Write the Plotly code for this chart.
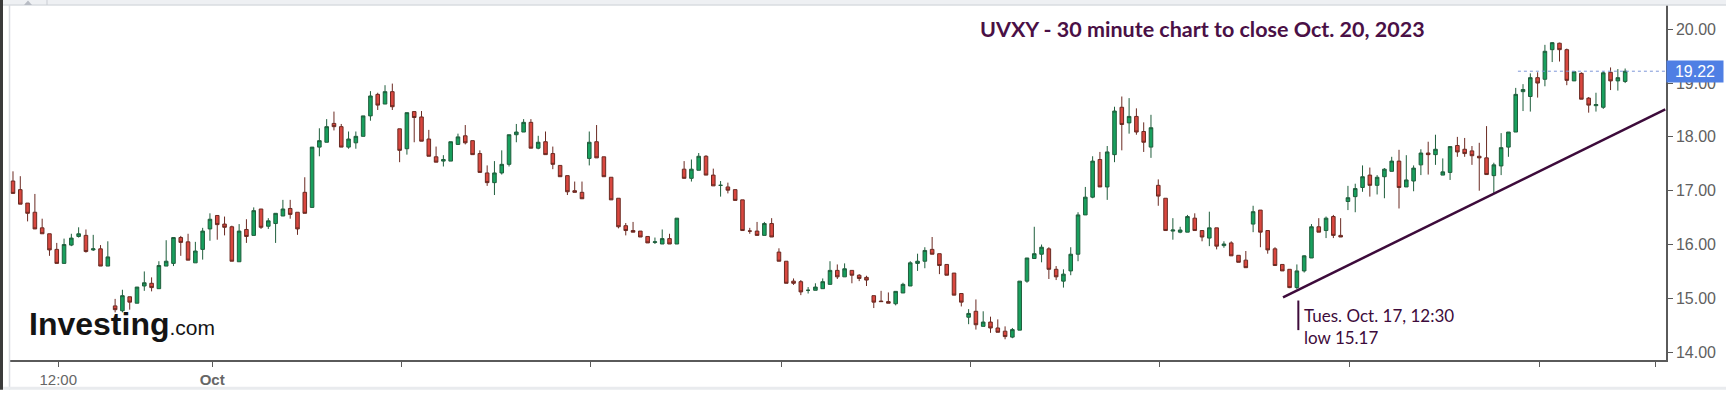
import plotly.graph_objects as go

# ---------------- data ----------------
opens = [17.18, 17.02, 16.77, 16.60, 16.31, 16.20, 15.91, 15.65, 15.99, 16.15,
         16.17, 15.90, 15.92, 15.60, 14.86, 14.77, 15.03, 14.91, 15.23, 15.28,
         15.18, 15.60, 15.65, 16.13, 16.05, 15.66, 15.91, 16.29, 16.54, 16.38,
         16.33, 15.68, 16.28, 16.17, 16.66, 16.34, 16.39, 16.53, 16.67, 16.60,
         16.97, 16.69, 17.81, 17.90, 18.25, 18.19, 17.81, 17.89, 18.01, 18.39,
         18.79, 18.61, 18.84, 18.15, 17.78, 18.47, 18.37, 17.96, 17.63, 17.55,
         17.55, 17.86, 18.02, 17.93, 17.69, 17.33, 17.15, 17.33, 17.49, 18.04,
         18.09, 18.27, 17.79, 17.91, 17.69, 17.47, 17.28, 17.00, 16.97, 17.60,
         17.91, 17.63, 17.25, 16.86, 16.35, 16.26, 16.25, 16.15, 16.04, 16.01,
         16.11, 16.01, 17.40, 17.23, 17.38, 17.64, 17.29, 17.10, 17.07, 17.02,
         16.83, 16.25, 16.25, 16.17, 16.39, 15.86, 15.69, 15.32, 15.31, 15.15,
         15.15, 15.18, 15.26, 15.52, 15.40, 15.52, 15.43, 15.39, 15.05, 14.95,
         14.94, 14.90, 15.10, 15.23, 15.65, 15.69, 15.91, 15.83, 15.63, 15.47,
         15.09, 14.65, 14.76, 14.48, 14.56, 14.45, 14.39, 14.28, 14.41, 15.32,
         15.74, 15.82, 15.92, 15.54, 15.32, 15.51, 15.82, 16.55, 16.88, 17.58,
         17.07, 17.67, 18.55, 18.26, 18.38, 18.10, 17.81, 17.10, 16.86, 16.25,
         16.23, 16.23, 16.49, 16.26, 16.12, 16.31, 15.98, 16.03, 15.80, 15.71,
         16.38, 16.64, 16.26, 15.92, 15.63, 15.54, 15.20, 15.51, 15.75, 16.33,
         16.26, 16.52, 16.17, 16.80, 16.89, 17.06, 17.29, 17.10, 17.26, 17.36,
         17.55, 17.07, 17.18, 17.48, 17.70, 17.67, 17.29, 17.34, 17.84, 17.77,
         17.74, 17.64, 17.61, 17.28, 17.46, 17.81, 18.09, 18.84, 18.75, 19.10,
         19.07, 19.62, 19.74, 19.62, 19.04, 19.18, 18.72, 18.58, 18.55, 19.20,
         19.04, 19.03]
highs = [17.36, 17.27, 16.77, 16.94, 16.48, 16.20, 16.03, 16.11, 16.20, 16.32,
         16.28, 16.18, 15.99, 16.06, 14.99, 15.16, 15.03, 15.21, 15.50, 15.39,
         15.69, 16.08, 16.13, 16.16, 16.20, 16.05, 16.31, 16.58, 16.54, 16.52,
         16.35, 16.38, 16.47, 16.69, 16.66, 16.49, 16.58, 16.83, 16.83, 16.60,
         17.25, 17.81, 18.16, 18.33, 18.47, 18.24, 18.10, 18.10, 18.39, 18.85,
         18.82, 18.96, 18.99, 18.15, 18.45, 18.47, 18.48, 18.13, 17.82, 17.66,
         17.91, 18.06, 18.22, 17.93, 17.75, 17.47, 17.55, 17.75, 18.04, 18.24,
         18.33, 18.33, 18.02, 18.10, 17.82, 17.47, 17.28, 17.17, 17.17, 18.10,
         18.22, 17.63, 17.25, 16.86, 16.40, 16.42, 16.25, 16.15, 16.13, 16.28,
         16.20, 16.49, 17.55, 17.58, 17.70, 17.66, 17.41, 17.18, 17.15, 17.02,
         16.83, 16.31, 16.42, 16.42, 16.49, 15.93, 15.69, 15.37, 15.34, 15.21,
         15.28, 15.37, 15.69, 15.63, 15.65, 15.52, 15.45, 15.42, 15.05, 15.14,
         15.11, 15.13, 15.29, 15.69, 15.83, 15.95, 16.14, 15.83, 15.63, 15.47,
         15.09, 14.80, 14.98, 14.76, 14.66, 14.61, 14.48, 14.45, 15.32, 15.75,
         16.33, 16.00, 15.95, 15.60, 15.54, 15.95, 16.60, 17.07, 17.64, 17.72,
         17.83, 18.56, 18.75, 18.72, 18.53, 18.27, 18.41, 17.21, 16.86, 16.49,
         16.33, 16.55, 16.58, 16.26, 16.61, 16.31, 16.06, 16.06, 15.80, 15.88,
         16.72, 16.64, 16.26, 15.95, 15.63, 15.54, 15.63, 15.80, 16.38, 16.49,
         16.52, 16.55, 16.49, 17.09, 17.13, 17.47, 17.43, 17.29, 17.42, 17.63,
         17.76, 17.66, 17.47, 17.77, 17.91, 18.04, 17.60, 17.82, 18.00, 17.98,
         17.83, 17.89, 18.20, 17.52, 18.07, 18.09, 18.91, 18.98, 19.18, 19.20,
         19.71, 19.76, 19.75, 19.64, 19.22, 19.20, 18.74, 18.82, 19.22, 19.29,
         19.26, 19.27]
lows = [16.95, 16.75, 16.43, 16.29, 16.20, 15.79, 15.65, 15.65, 15.97, 16.13,
        15.85, 15.88, 15.60, 15.60, 14.74, 14.74, 14.79, 14.91, 15.14, 15.13,
        15.18, 15.60, 15.60, 15.79, 15.71, 15.66, 15.72, 16.07, 16.09, 16.17,
        15.69, 15.68, 16.03, 16.17, 16.29, 16.29, 16.03, 16.53, 16.48, 16.18,
        16.58, 16.69, 17.64, 17.90, 18.12, 17.81, 17.78, 17.78, 18.01, 18.30,
        18.50, 18.61, 18.50, 17.53, 17.67, 17.90, 17.92, 17.64, 17.53, 17.45,
        17.55, 17.85, 17.86, 17.67, 17.34, 17.09, 16.92, 17.30, 17.45, 17.90,
        18.09, 17.79, 17.77, 17.67, 17.40, 17.26, 16.92, 16.97, 16.85, 17.47,
        17.61, 17.26, 16.83, 16.30, 16.17, 16.23, 16.14, 16.03, 16.01, 16.01,
        16.01, 16.01, 17.23, 17.17, 17.38, 17.29, 17.09, 16.89, 16.95, 16.82,
        16.26, 16.20, 16.17, 16.17, 16.14, 15.69, 15.28, 15.25, 15.06, 15.09,
        15.15, 15.18, 15.26, 15.36, 15.40, 15.28, 15.32, 15.23, 14.82, 14.94,
        14.91, 14.87, 15.10, 15.23, 15.51, 15.56, 15.82, 15.45, 15.43, 15.06,
        14.85, 14.52, 14.42, 14.48, 14.36, 14.37, 14.24, 14.26, 14.41, 15.29,
        15.74, 15.67, 15.36, 15.34, 15.20, 15.43, 15.69, 16.55, 16.86, 17.07,
        16.83, 17.53, 17.75, 18.06, 18.04, 17.72, 17.61, 16.72, 16.26, 16.09,
        16.21, 16.23, 16.26, 16.06, 15.97, 15.91, 15.94, 15.79, 15.67, 15.57,
        16.23, 15.95, 15.83, 15.61, 15.51, 15.19, 15.17, 15.48, 15.75, 16.23,
        16.12, 16.12, 16.14, 16.64, 16.60, 16.98, 16.89, 16.93, 16.86, 17.36,
        16.67, 17.07, 16.99, 17.29, 17.30, 17.48, 17.29, 17.20, 17.63, 17.63,
        17.48, 17.00, 17.30, 16.95, 17.29, 17.63, 18.09, 18.48, 18.47, 18.73,
        18.94, 19.39, 19.40, 18.96, 19.04, 18.70, 18.45, 18.47, 18.52, 18.87,
        18.86, 19.00]
closes = [16.95, 16.75, 16.58, 16.29, 16.20, 15.90, 15.65, 16.00, 16.12, 16.20,
          15.87, 15.92, 15.60, 15.77, 14.79, 15.05, 14.93, 15.21, 15.29, 15.20,
          15.61, 15.69, 16.13, 16.04, 15.71, 15.88, 16.25, 16.47, 16.37, 16.32,
          15.69, 16.25, 16.15, 16.63, 16.32, 16.44, 16.58, 16.66, 16.56, 16.29,
          16.58, 17.81, 17.93, 18.19, 18.19, 17.81, 17.96, 18.01, 18.39, 18.76,
          18.59, 18.84, 18.56, 17.75, 18.45, 18.36, 17.92, 17.64, 17.53, 17.58,
          17.91, 18.00, 17.89, 17.67, 17.34, 17.15, 17.33, 17.49, 18.04, 18.09,
          18.27, 17.79, 17.90, 17.67, 17.49, 17.26, 16.98, 16.97, 16.85, 17.90,
          17.61, 17.26, 16.83, 16.33, 16.26, 16.23, 16.14, 16.03, 16.05, 16.11,
          16.01, 16.49, 17.23, 17.40, 17.64, 17.29, 17.09, 17.10, 17.01, 16.82,
          16.26, 16.25, 16.17, 16.39, 16.14, 15.69, 15.28, 15.28, 15.12, 15.15,
          15.21, 15.31, 15.52, 15.40, 15.55, 15.43, 15.37, 15.34, 14.93, 14.94,
          14.91, 15.13, 15.26, 15.66, 15.69, 15.89, 15.82, 15.61, 15.43, 15.06,
          14.93, 14.72, 14.51, 14.56, 14.45, 14.37, 14.29, 14.42, 15.32, 15.75,
          15.83, 15.95, 15.54, 15.40, 15.45, 15.82, 16.55, 16.88, 17.55, 17.07,
          17.72, 18.48, 18.23, 18.38, 18.09, 17.90, 18.17, 16.90, 16.26, 16.27,
          16.27, 16.52, 16.26, 16.14, 16.31, 15.97, 16.01, 15.79, 15.67, 15.57,
          16.61, 16.23, 15.90, 15.61, 15.51, 15.20, 15.51, 15.79, 16.33, 16.23,
          16.49, 16.17, 16.14, 16.87, 17.04, 17.26, 17.10, 17.25, 17.40, 17.55,
          17.06, 17.20, 17.42, 17.70, 17.67, 17.77, 17.35, 17.82, 17.72, 17.69,
          17.65, 17.61, 17.30, 17.48, 17.80, 18.09, 18.79, 18.88, 19.10, 19.00,
          19.59, 19.75, 19.62, 19.05, 19.21, 18.70, 18.59, 18.60, 19.19, 19.04,
          19.10, 19.22]

bar_index = list(range(len(closes)))

x_tick_positions = [6.2, 27.3, 53.3, 79.2, 105.3, 131.3, 157.2, 183.2, 209.2, 225.2]
x_tick_labels = ["12:00", "<b>Oct</b>", "", "", "", "", "", "", "", ""]
y_tick_values = [14, 15, 16, 17, 18, 19, 20]
y_tick_labels = ["14.00", "15.00", "16.00", "17.00", "18.00", "19.00", "20.00"]

trend_x = [174.1, 226.5]
trend_y = [15.02, 18.51]

low_bar = 176          # Tues. Oct. 17, 12:30 bar
low_value = 15.17
title_text = "UVXY - 30 minute chart to close Oct. 20, 2023"
note_text = "Tues. Oct. 17, 12:30<br>low 15.17"

# ---------------- layout geometry ----------------
W, H = 1726, 393
ML, MR, MT, MB = 10, 60, 5, 30
PW = W - ML - MR
PH = H - MT - MB


def px(x):
    return (x - ML) / PW


def py(y):
    return (H - MB - y) / PH


X_RANGE = [-0.41, 226.6]
Y_RANGE = [13.855, 20.45]

fig = go.Figure()

fig.add_trace(go.Candlestick(
    x=bar_index, open=opens, high=highs, low=lows, close=closes,
    increasing=dict(line=dict(color="#1f5e3c", width=1), fillcolor="#18a05e"),
    decreasing=dict(line=dict(color="#6b2a22", width=1), fillcolor="#d9473f"),
    whiskerwidth=0, hoverinfo="skip", showlegend=False,
))

fig.add_trace(go.Scatter(
    x=trend_x, y=trend_y, mode="lines",
    line=dict(color="#3d0b3b", width=2.5), hoverinfo="skip", showlegend=False,
))

shapes = [
    # last price dotted line
    dict(type="line", xref="x", yref="y", x0=206.3, x1=X_RANGE[1],
         y0=closes[-1], y1=closes[-1],
         line=dict(color="#7d96d8", width=1, dash="dot")),
    # annotation marker line
    dict(type="line", xref="x", yref="y", x0=low_bar + 0.2, x1=low_bar + 0.2,
         y0=14.41, y1=14.96, line=dict(color="#3d0b3b", width=2)),
    # frame decorations
    dict(type="rect", xref="paper", yref="paper", x0=px(0), x1=px(3), y0=py(H), y1=py(0),
         fillcolor="#3a3a3a", line=dict(width=0), layer="below"),
    dict(type="rect", xref="paper", yref="paper", x0=px(3), x1=px(W), y0=py(5), y1=py(0),
         fillcolor="#eef0f3", line=dict(width=0), layer="below"),
    dict(type="line", xref="paper", yref="paper", x0=px(3), x1=px(W), y0=py(5), y1=py(5),
         line=dict(color="#d9dce1", width=1.5)),
    dict(type="line", xref="paper", yref="paper", x0=px(9.5), x1=px(9.5), y0=py(H), y1=py(5),
         line=dict(color="#d9dce1", width=1.5)),
    dict(type="rect", xref="paper", yref="paper", x0=px(3), x1=px(W), y0=py(H), y1=py(390),
         fillcolor="#e9ebee", line=dict(width=0)),
    dict(type="line", xref="paper", yref="paper", x0=px(47), x1=px(47), y0=py(5), y1=py(0),
         line=dict(color="#c9ccd2", width=1)),
    # small triangle icon in the top toolbar
    dict(type="path", xref="paper", yref="paper",
         path="M %f %f L %f %f L %f %f Z" % (px(24), py(5), px(32), py(5), px(28), py(0.5)),
         fillcolor="#b8bcc4", line=dict(width=0)),
]

annotations = [
    dict(xref="paper", yref="paper", x=px(1202), y=py(29), text="<b>" + title_text + "</b>",
         showarrow=False, xanchor="center", yanchor="middle",
         font=dict(family="Lato", size=21.5, color="#4a1046")),
    dict(xref="paper", yref="paper", x=px(1302), y=py(329), text=note_text, align="left",
         showarrow=False, xanchor="left", yanchor="middle",
         font=dict(family="Lato", size=17, color="#3d0b3b")),
    dict(xref="paper", yref="paper", x=px(27), y=py(327),
         text="<b>Investing</b><span style='font-size:21px'>.com</span>",
         showarrow=False, xanchor="left", yanchor="middle",
         font=dict(family="Liberation Sans", size=32, color="#141414")),
    dict(xref="paper", yref="y", x=px(1666), y=closes[-1], text="%.2f" % closes[-1],
         showarrow=False, xanchor="left", yanchor="middle", bgcolor="#4f7fe4",
         borderpad=2, width=52,
         font=dict(family="Liberation Sans", size=16, color="#ffffff")),
]

fig.update_layout(
    width=W, height=H,
    margin=dict(l=ML, r=MR, t=MT, b=MB),
    paper_bgcolor="#ffffff", plot_bgcolor="#ffffff",
    shapes=shapes, annotations=annotations,
    showlegend=False,
    xaxis=dict(range=X_RANGE, rangeslider=dict(visible=False), showgrid=False,
               zeroline=False, showline=True, linecolor="#5a5a5a", linewidth=1.5,
               tickmode="array", tickvals=x_tick_positions, ticktext=x_tick_labels,
               ticks="outside", ticklen=5, tickcolor="#5a5a5a",
               tickfont=dict(family="Liberation Sans", size=15, color="#666666")),
    yaxis=dict(range=Y_RANGE, side="right", showgrid=False, zeroline=False,
               showline=True, linecolor="#5a5a5a", linewidth=1.5,
               tickmode="array", tickvals=y_tick_values, ticktext=y_tick_labels,
               ticks="outside", ticklen=5, tickcolor="#5a5a5a",
               tickfont=dict(family="Liberation Sans", size=16, color="#606060")),
)

fig.write_html("out.html", config={"displayModeBar": False},
               post_script="document.body.style.margin='0';document.body.style.overflow='hidden';")
